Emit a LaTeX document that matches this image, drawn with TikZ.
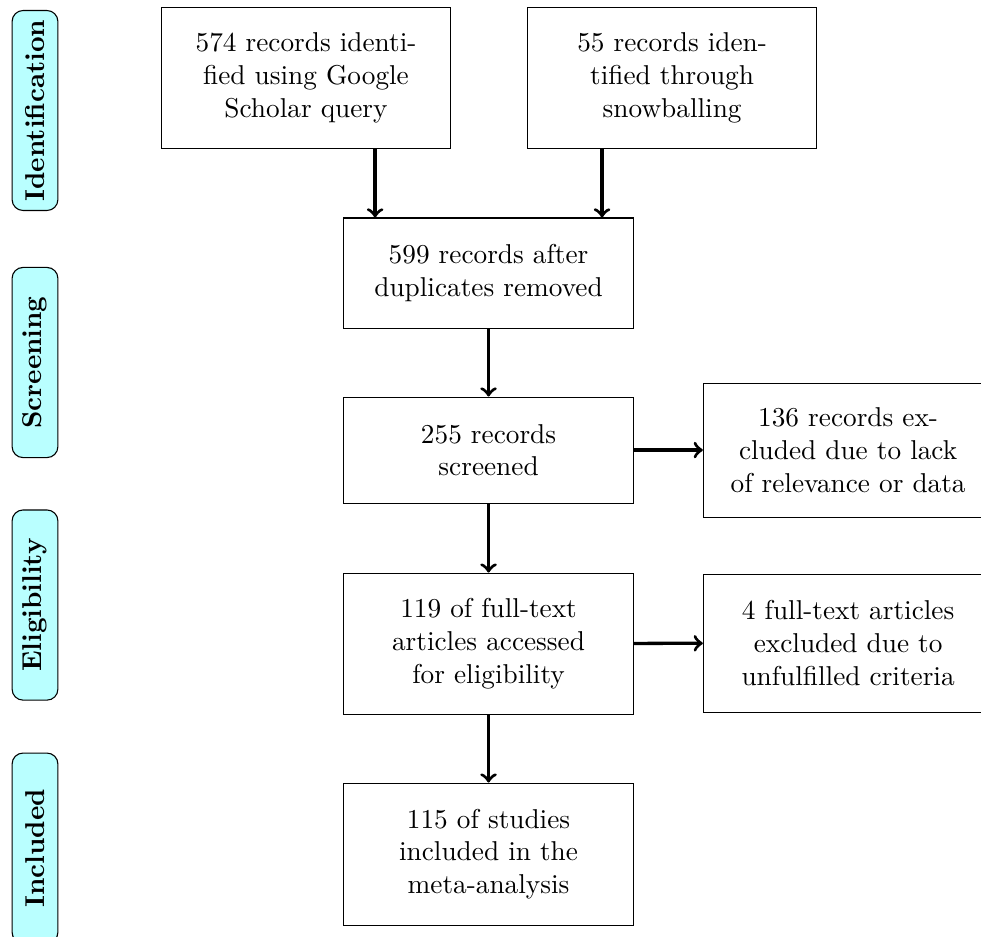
\documentclass[tikz,border=0pt]{standalone}
\usepackage{amsmath}
\usepackage{amssymb}
\usepackage{tikz}

\definecolor{phasecyan}{RGB}{185,255,255}

\tikzset{
	record/.style={draw, rectangle, text width=3.05cm, inner xsep=0.34cm, align=center},
	phase/.style={draw, rounded corners, fill=phasecyan, rotate=90, minimum width=2.45cm, minimum height=0.59cm, font=\bfseries},
	flow/.style={very thick, ->}
}

\begin{document}
\begin{tikzpicture}
		\useasboundingbox (0,0) rectangle (12.64,-12.07);
		
		\node[phase] (ident) at (0.451,-1.424) {Identification};
		\node[phase] (screen) at (0.451,-4.671) {Screening};
		\node[phase] (elig) at (0.451,-7.796) {Eligibility};
		\node[phase] (incl) at (0.451,-10.928) {Included};
		
		\node[record, minimum height=1.817cm] (scholar) at (3.943,-1.005) {574 records identified using Google Scholar query};
		\node[record, minimum height=1.817cm] (snow) at (8.660,-1.005) {55 records identified through snowballing};
		\node[record, minimum height=1.418cm] (dupl) at (6.295,-3.518) {599 records after duplicates removed};
		\node[record, minimum height=1.366cm] (screened) at (6.295,-5.799) {255 records screened};
		\node[record, minimum height=1.727cm] (excl) at (10.928,-5.799) {136 records excluded due to lack of relevance or data};
		\node[record, minimum height=1.817cm] (fulltext) at (6.295,-8.293) {119 of full-text articles accessed for eligibility};
		\node[record, minimum height=1.778cm] (unful) at (10.928,-8.286) {4 full-text articles excluded due to unfulfilled criteria};
		\node[record, minimum height=1.830cm] (meta) at (6.295,-11.005) {115 of studies included in the meta-analysis};
		
		\coordinate (inA) at ([xshift=0.41cm]dupl.north west);
		\coordinate (inB) at ([xshift=-0.41cm]dupl.north east);
		\draw[flow] (scholar.south -| inA) -- (inA);
		\draw[flow] (snow.south -| inB) -- (inB);
		\draw[flow] (dupl) -- (screened);
		\draw[flow] (screened) -- (excl);
		\draw[flow] (screened) -- (fulltext);
		\draw[flow] (fulltext) -- (unful);
		\draw[flow] (fulltext) -- (meta);
	\end{tikzpicture}
\end{document}
